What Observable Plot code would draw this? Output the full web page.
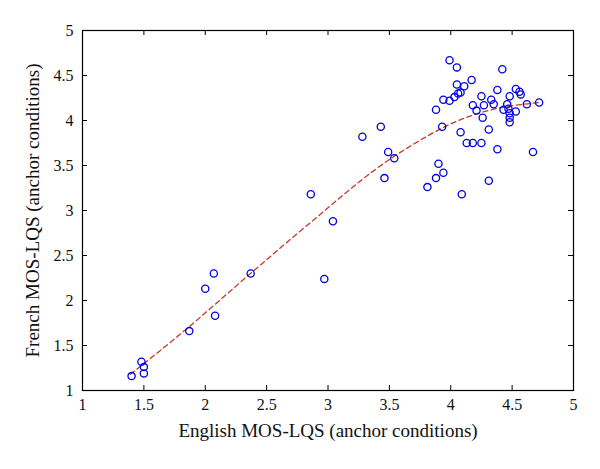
<!DOCTYPE html>
<html>
<head>
<meta charset="utf-8">
<script src="https://cdn.jsdelivr.net/npm/d3@7"></script>
<script src="https://cdn.jsdelivr.net/npm/@observablehq/plot@0.6"></script>
<style>
  html, body { margin: 0; padding: 0; background: #fff; }
</style>
</head>
<body>
<div id="chart"></div>
<script>
// English MOS-LQS (x) vs French MOS-LQS (y), anchor conditions
const englishMOS = [
  1.40, 1.48, 1.50, 1.50, 1.87, 2.00, 2.07, 2.08, 2.37, 2.86, 2.97, 3.04,
  3.28, 3.43, 3.49, 3.54, 3.46, 3.81, 3.88, 3.90, 3.94, 4.09, 4.31, 3.88,
  3.93, 4.08, 4.13, 4.18, 4.25, 4.31, 4.38, 4.67,
  3.99, 4.05, 4.42, 4.05, 4.11, 4.17, 4.06, 4.08, 4.03, 3.94, 3.99, 4.18,
  4.21, 4.25, 4.27, 4.26, 4.33, 4.35, 4.38, 4.43, 4.46, 4.48, 4.47, 4.48,
  4.48, 4.48, 4.53, 4.53, 4.56, 4.57, 4.62, 4.72
];
const frenchMOS = [
  1.16, 1.32, 1.26, 1.19, 1.66, 2.13, 2.30, 1.83, 2.30, 3.18, 2.24, 2.88,
  3.82, 3.93, 3.65, 3.58, 3.36, 3.26, 3.36, 3.52, 3.42, 3.18, 3.33, 4.12,
  3.93, 3.87, 3.75, 3.75, 3.75, 3.90, 3.68, 3.65,
  4.67, 4.59, 4.57, 4.40, 4.38, 4.45, 4.30, 4.31, 4.26, 4.23, 4.22, 4.17,
  4.11, 4.27, 4.17, 4.03, 4.23, 4.18, 4.34, 4.12, 4.18, 4.27, 4.13, 4.08,
  4.03, 3.98, 4.10, 4.35, 4.32, 4.29, 4.18, 4.20
];
// fitted curve
const fitX = [1.39, 1.80, 2.20, 2.60, 3.00, 3.40, 3.80, 4.10, 4.40, 4.72];
const fitY = [1.18, 1.63, 2.10, 2.57, 3.03, 3.47, 3.82, 4.02, 4.14, 4.20];
const xTicks = [1, 1.5, 2, 2.5, 3, 3.5, 4, 4.5, 5];
const yTicks = [1, 1.5, 2, 2.5, 3, 3.5, 4, 4.5, 5];
const xLabel = "English MOS-LQS (anchor conditions)";
const yLabel = "French MOS-LQS (anchor conditions)";

const points = englishMOS.map((x, i) => ({x, y: frenchMOS[i]}));
const fit = fitX.map((x, i) => ({x, y: fitY[i]}));

const width = 600, height = 469;
const mL = 82, mR = 27, mT = 30, mB = 79;
const W = width - mL - mR, H = height - mT - mB;
const tk = 5;
const fmt = d => String(d);
const serif = "'Liberation Serif', 'DejaVu Serif', serif";

const chart = Plot.plot({
  width, height,
  marginLeft: mL, marginRight: mR, marginTop: mT, marginBottom: mB,
  style: {fontFamily: serif, fontSize: "16px", color: "#111", background: "#fff"},
  x: {domain: [1, 5], axis: null},
  y: {domain: [1, 5], axis: null},
  marks: [
    Plot.frame({stroke: "#000", strokeWidth: 1.2}),
    Plot.tickX(xTicks, {x: d => d, insetTop: H - tk, stroke: "#000"}),
    Plot.tickX(xTicks, {x: d => d, insetBottom: H - tk, stroke: "#000"}),
    Plot.tickY(yTicks, {y: d => d, insetRight: W - tk, stroke: "#000"}),
    Plot.tickY(yTicks, {y: d => d, insetLeft: W - tk, stroke: "#000"}),
    Plot.text(xTicks, {x: d => d, frameAnchor: "bottom", dy: 19, textAnchor: "middle", text: fmt, fontSize: 16, fontFamily: serif, fill: "#111"}),
    Plot.text(yTicks, {y: d => d, frameAnchor: "left", dx: -9, textAnchor: "end", text: fmt, fontSize: 16, fontFamily: serif, fill: "#111"}),
    Plot.text([xLabel], {frameAnchor: "bottom", dy: 46, textAnchor: "middle", text: d => d, fontSize: 19, fontFamily: serif, fill: "#111"}),
    Plot.text([yLabel], {frameAnchor: "left", dx: -50, textAnchor: "middle", rotate: -90, text: d => d, fontSize: 19, fontFamily: serif, fill: "#111"}),
    Plot.line(fit, {x: "x", y: "y", curve: "natural", stroke: "#c8382a", strokeWidth: 1.3, strokeDasharray: "5,3.5"}),
    Plot.dot(points, {x: "x", y: "y", r: 3.6, stroke: "#0000e0", strokeWidth: 1.3, fill: "none"})
  ]
});
document.getElementById("chart").appendChild(chart);
</script>
</body>
</html>
